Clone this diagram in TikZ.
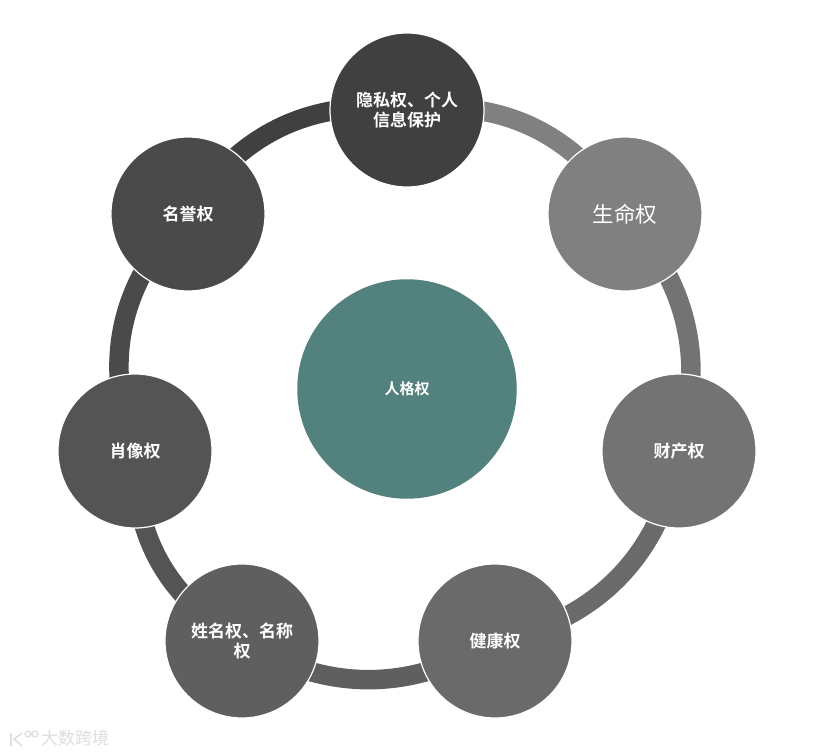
\documentclass[tikz,border=0pt]{standalone}
\usepackage{fontspec}
\setmainfont{Noto Sans CJK SC}[BoldFont=Noto Sans CJK SC Bold]
\usetikzlibrary{backgrounds}
\definecolor{grayA}{HTML}{404040}
\definecolor{grayB}{HTML}{4A4A4A}
\definecolor{grayC}{HTML}{545454}
\definecolor{grayD}{HTML}{5F5F5F}
\definecolor{grayE}{HTML}{6A6A6A}
\definecolor{grayF}{HTML}{737373}
\definecolor{grayG}{HTML}{808080}
\definecolor{centre}{HTML}{53817D}
\definecolor{wmgray}{HTML}{DEDEDE}
\begin{document}
\begin{tikzpicture}[x=1pt,y=-1pt,
  hub/.style={circle,draw=white,line width=1.2pt,minimum size=154pt,inner sep=0pt,text=white,align=center,font=\fontsize{17}{20.5}\selectfont\bfseries},
  link/.style={line width=19.5pt,line cap=butt}]
\useasboundingbox (0,0) rectangle (827,754);
\node[hub,fill=grayA] (T) at (407,110) {隐私权、个人\\信息保护};
\node[hub,fill=grayG,font=\fontsize{21.5}{24}\selectfont] (L) at (625,214) {生命权};
\node[hub,fill=grayF] (P) at (679,451) {财产权};
\node[hub,fill=grayE] (H) at (495,641) {健康权};
\node[hub,fill=grayD] (N) at (242,641) {姓名权、名称\\权};
\node[hub,fill=grayC] (X) at (135,451) {肖像权};
\node[hub,fill=grayB] (M) at (188,214) {名誉权};
\node[circle,fill=centre,minimum size=219.5pt,inner sep=0pt,text=white,font=\fontsize{15}{17}\selectfont\bfseries] (C) at (407,389) {人格权};
\node[text=wmgray,font=\fontsize{17}{19}\selectfont,inner sep=0pt,anchor=west] (W) at (41,738) {大数跨境};
\draw[wmgray,line width=1.6pt] (11,733) -- (11,746) (22,733) -- (14,739) -- (22,746);
\draw[wmgray,line width=1.2pt] (28,734) circle (3pt) (35,734) circle (3pt);
\begin{scope}[on background layer]
\fill[white] (0,0) rectangle (827,754);
\draw[link,color=grayG] (T.center) to[bend left=33] (L.center);
\draw[link,color=grayF] (L.center) to[bend left=29] (P.center);
\draw[link,color=grayE] (P.center) to[bend left=35] (H.center);
\draw[link,color=grayD] (H.center) to[bend left=31.5] (N.center);
\draw[link,color=grayC] (N.center) to[bend left=31] (X.center);
\draw[link,color=grayB] (X.center) to[bend left=33] (M.center);
\draw[link,color=grayA] (M.center) to[bend left=33] (T.center);
\end{scope}
\end{tikzpicture}
\end{document}
